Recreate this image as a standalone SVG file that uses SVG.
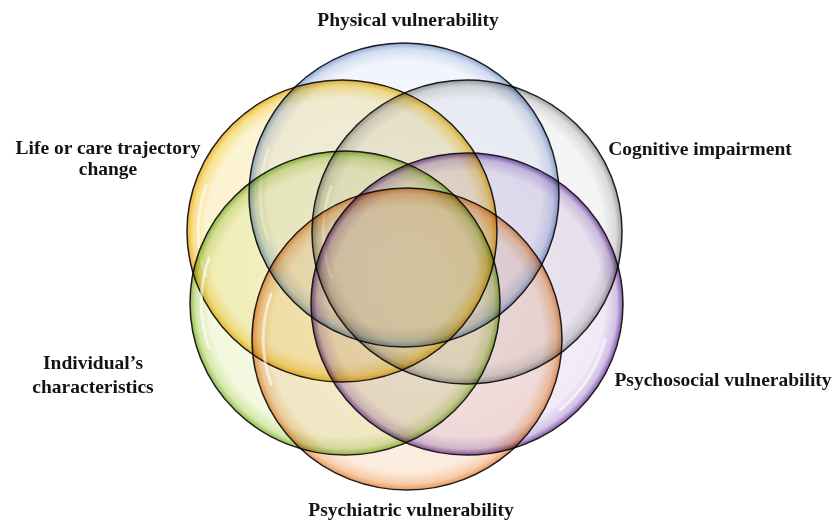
<svg xmlns="http://www.w3.org/2000/svg" width="837" height="521" viewBox="0 0 837 521">
<defs>
<radialGradient id="gBlue" cx="0.5" cy="0.5" r="0.5">
<stop offset="0" stop-color="#f6f8fd"/>
<stop offset="0.88" stop-color="#f2f5fc"/>
<stop offset="0.96" stop-color="#d2ddf1"/>
<stop offset="1" stop-color="#90a8d8"/>
</radialGradient>
<radialGradient id="gGrey" cx="0.5" cy="0.5" r="0.5">
<stop offset="0" stop-color="#f7f7f7"/>
<stop offset="0.88" stop-color="#f4f4f4"/>
<stop offset="0.96" stop-color="#dadada"/>
<stop offset="1" stop-color="#a0a0a0"/>
</radialGradient>
<radialGradient id="gYellow" cx="0.5" cy="0.5" r="0.5">
<stop offset="0" stop-color="#fdf7e2"/>
<stop offset="0.88" stop-color="#fcf3d2"/>
<stop offset="0.96" stop-color="#f8e08c"/>
<stop offset="1" stop-color="#ecb834"/>
</radialGradient>
<radialGradient id="gPurple" cx="0.5" cy="0.5" r="0.5">
<stop offset="0" stop-color="#f6f1fa"/>
<stop offset="0.88" stop-color="#f1eaf7"/>
<stop offset="0.96" stop-color="#d4c2e6"/>
<stop offset="1" stop-color="#8258ae"/>
</radialGradient>
<radialGradient id="gGreen" cx="0.5" cy="0.5" r="0.5">
<stop offset="0" stop-color="#f8fbe8"/>
<stop offset="0.88" stop-color="#f3f9de"/>
<stop offset="0.96" stop-color="#d6e8ac"/>
<stop offset="1" stop-color="#92bf4c"/>
</radialGradient>
<radialGradient id="gOrange" cx="0.5" cy="0.5" r="0.5">
<stop offset="0" stop-color="#fdf2e6"/>
<stop offset="0.88" stop-color="#fcecdf"/>
<stop offset="0.96" stop-color="#f6cca8"/>
<stop offset="1" stop-color="#ea9658"/>
</radialGradient>
</defs>
<style>
.c{stroke:#1e1e1e;stroke-width:1.5;mix-blend-mode:multiply}
.h{fill:none;stroke:#ffffff;stroke-opacity:0.6;stroke-width:3;stroke-linecap:round}
.t{font-family:"Liberation Serif","Times New Roman",serif;font-weight:bold;font-size:19.5px;fill:#141414;text-anchor:middle}
</style>
<rect width="837" height="521" fill="#ffffff"/>
<g id="physical">
<ellipse class="c" cx="404" cy="195" rx="155" ry="152" fill="url(#gBlue)"/>
<path class="h" d="M 268 150 A 143 140 0 0 0 268 240"/>
<text class="t" x="408" y="26">Physical vulnerability</text>
</g>
<g id="cognitive">
<ellipse class="c" cx="467" cy="232" rx="155" ry="152" fill="url(#gGrey)"/>
<path class="h" d="M 331 187 A 143 140 0 0 0 331 277"/>
<text class="t" x="700" y="155">Cognitive impairment</text>
</g>
<g id="life">
<ellipse class="c" cx="342" cy="231" rx="155" ry="151" fill="url(#gYellow)"/>
<path class="h" d="M 206 186 A 143 139 0 0 0 206 276"/>
<text class="t" x="108" y="154">Life or care trajectory</text>
<text class="t" x="108" y="175">change</text>
</g>
<g id="psychosocial">
<ellipse class="c" cx="467" cy="304" rx="156" ry="151" fill="url(#gPurple)"/>
<path class="h" d="M 605 340 A 143 139 0 0 1 560 410"/>
<text class="t" x="723" y="386">Psychosocial vulnerability</text>
</g>
<g id="individual">
<ellipse class="c" cx="345" cy="303" rx="155" ry="152" fill="url(#gGreen)"/>
<path class="h" d="M 209 258 A 143 140 0 0 0 209 348"/>
<text class="t" x="93" y="369">Individual’s</text>
<text class="t" x="93" y="393">characteristics</text>
</g>
<g id="psychiatric">
<ellipse class="c" cx="407" cy="339" rx="155" ry="151" fill="url(#gOrange)"/>
<path class="h" d="M 271 294 A 143 139 0 0 0 271 384"/>
<text class="t" x="411" y="516">Psychiatric vulnerability</text>
</g>
<g id="connectors"/>
</svg>
